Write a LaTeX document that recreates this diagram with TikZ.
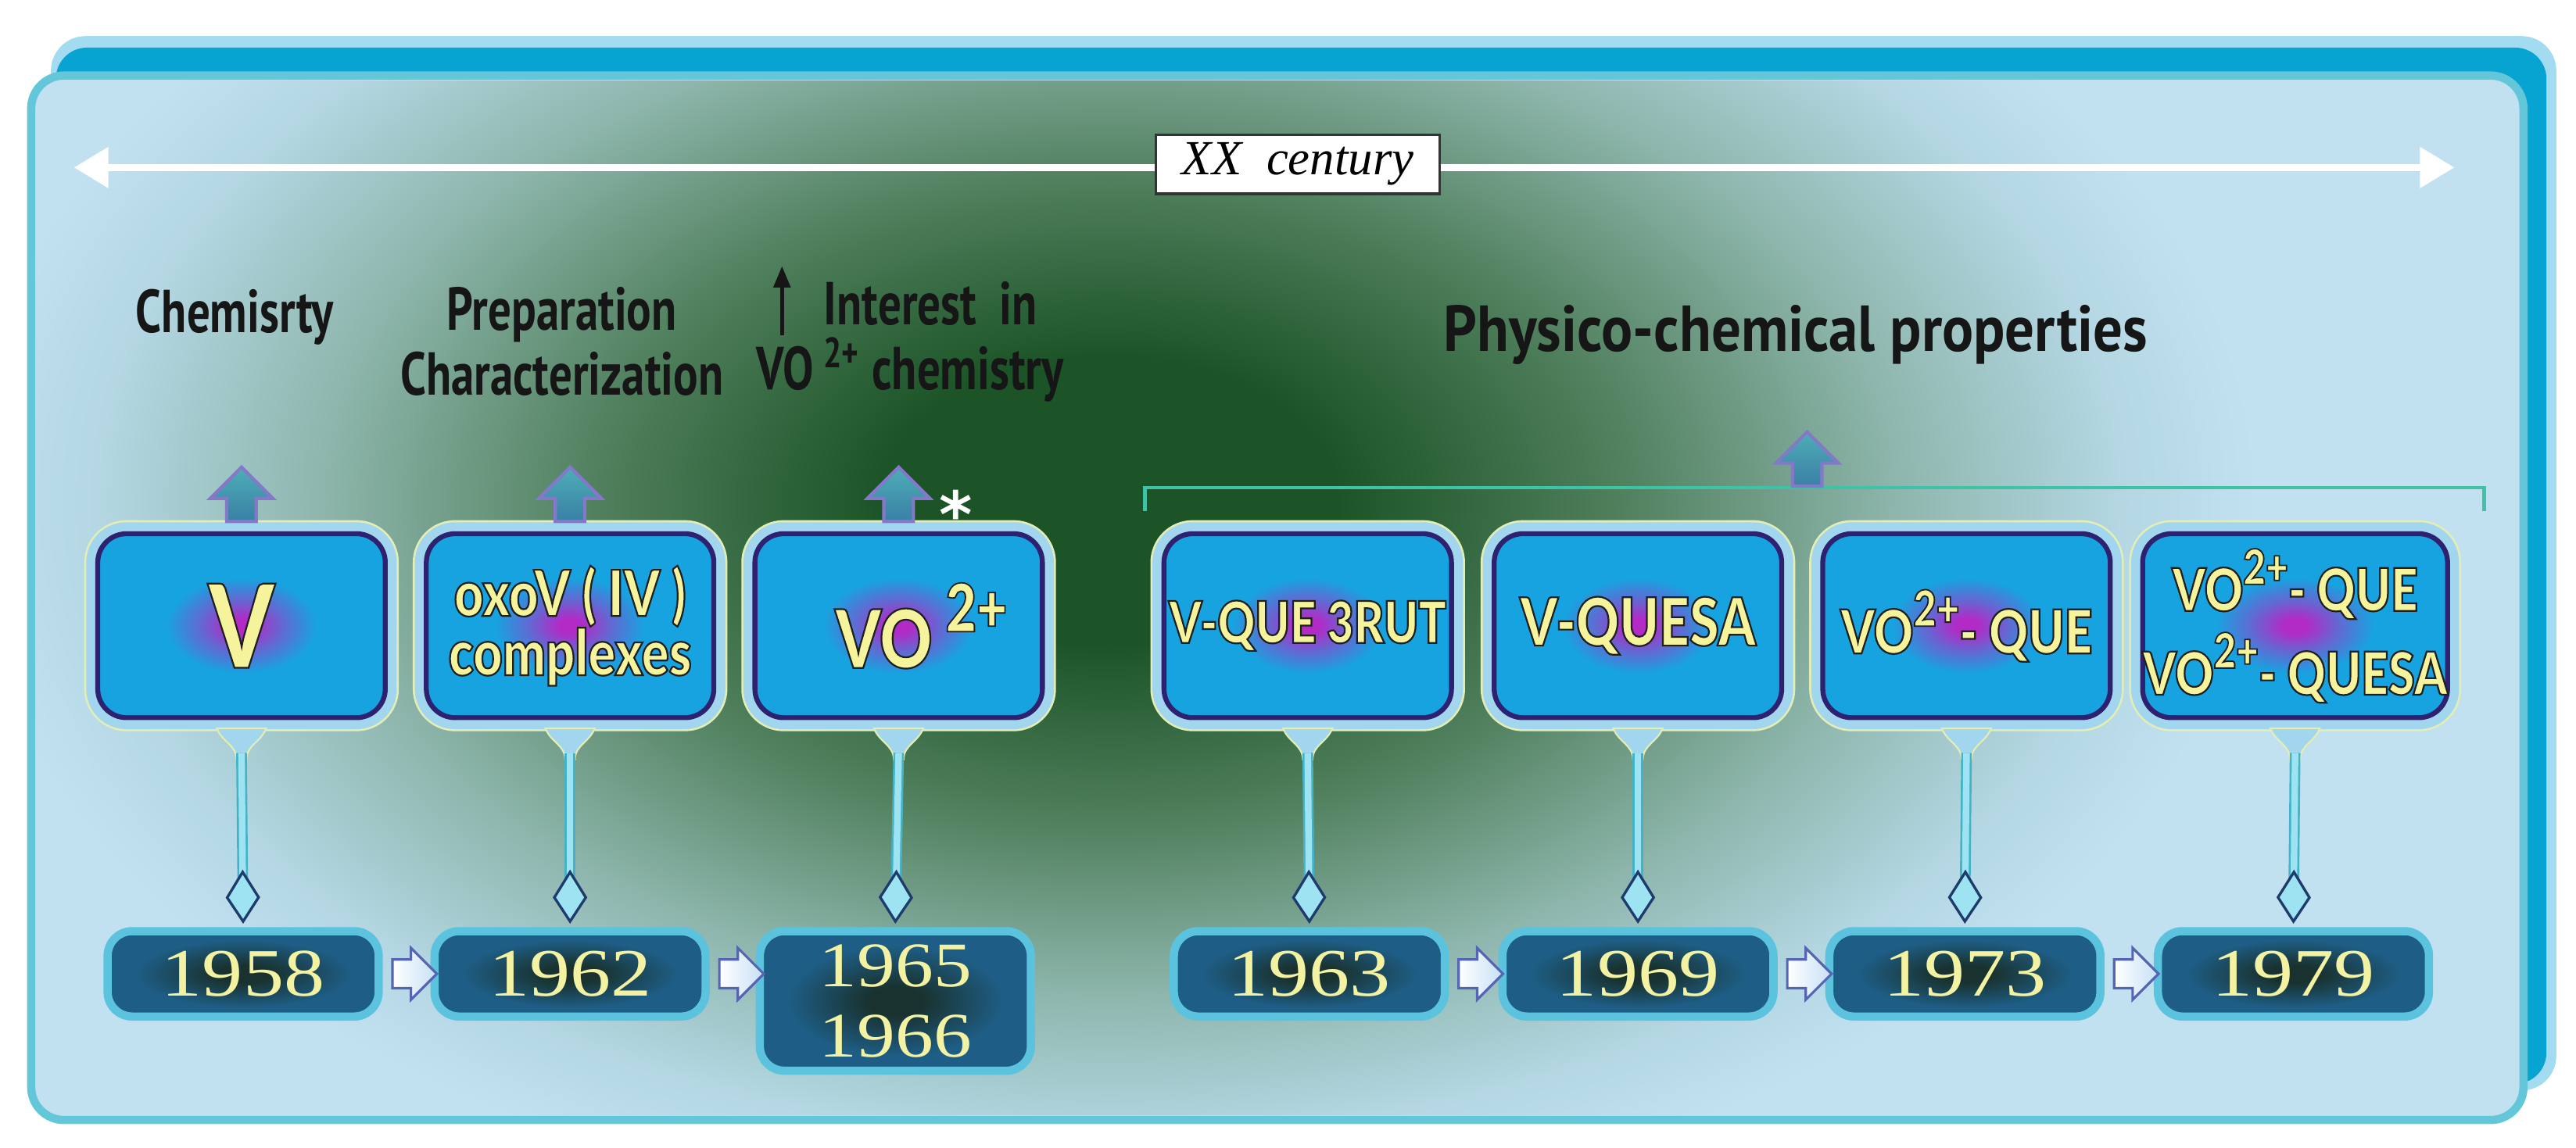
\documentclass[tikz,border=0pt]{standalone}
\usepackage{fontspec}
\usepackage{graphicx}
\usetikzlibrary{positioning,shapes.arrows,arrows.meta}

\newfontfamily\headfont[FakeStretch=0.76]{PT Sans}
\newfontfamily\headwide[FakeStretch=0.9]{PT Sans}
\newfontfamily\centfont{Liberation Serif}
\newfontfamily\impactfont[FakeStretch=0.8, UprightFont=* Black]{Lato}
\newfontfamily\yearfont[FakeStretch=1.2]{Liberation Serif}
\newfontfamily\symfont{DejaVu Sans}

\definecolor{panelblue}{HTML}{C1E1F1}
\definecolor{paneledge}{HTML}{63C7D9}
\definecolor{backblue}{HTML}{07A3D1}
\definecolor{backedge}{HTML}{A3DCF1}
\definecolor{glowgreen}{HTML}{1C5427}
\definecolor{glowmid}{HTML}{4F7F5C}
\definecolor{glowpale}{HTML}{8DB5AB}
\definecolor{glowlight}{HTML}{B4D7E3}
\definecolor{boxblue}{HTML}{17A3DF}
\definecolor{glowpurple}{HTML}{B22BC6}
\definecolor{boxnavy}{HTML}{2E2170}
\definecolor{framepale}{HTML}{A2D6EE}
\definecolor{frameedge}{HTML}{E4EEB4}
\definecolor{yearedge}{HTML}{1E5E86}
\definecolor{yearcore}{HTML}{19322F}
\definecolor{yearrim}{HTML}{5CC3DF}
\definecolor{yearyellow}{HTML}{F3F1A2}
\definecolor{boxyellow}{HTML}{F5F39C}
\definecolor{headblack}{HTML}{161616}
\definecolor{stemcyan}{HTML}{9DE3F2}
\definecolor{stemedge}{HTML}{45B3C6}
\definecolor{tipnavy}{HTML}{1F3B6B}
\definecolor{arrowtop}{HTML}{4DAEB6}
\definecolor{arrowbottom}{HTML}{3A7FA6}
\definecolor{arrowlilac}{HTML}{8479C8}
\definecolor{nextfill}{HTML}{C6E0F6}
\definecolor{nextedge}{HTML}{5565B2}
\definecolor{bracketgreen}{HTML}{3FC2A6}
\definecolor{centedge}{HTML}{333333}

\pgfdeclareradialshading{greenglow}{\pgfpoint{0bp}{0bp}}{color(0bp)=(glowgreen); color(5bp)=(glowgreen); color(11bp)=(glowmid); color(17bp)=(glowpale); color(22bp)=(glowlight); color(25bp)=(panelblue); color(50bp)=(panelblue)}
\pgfdeclareradialshading{boxglow}{\pgfpoint{0bp}{0bp}}{color(0bp)=(glowpurple); color(2bp)=(glowpurple); color(7bp)=(boxblue!50!glowpurple); color(13bp)=(boxblue); color(50bp)=(boxblue)}
\pgfdeclareradialshading{yearglow}{\pgfpoint{0bp}{0bp}}{color(0bp)=(yearcore); color(5bp)=(yearcore); color(20bp)=(yearedge); color(50bp)=(yearedge)}

% yellow letters with a dark rim (stroke of the glyphs)
\newcommand{\boxtext}[1]{\special{pdf:literal direct q 0.12 0.12 0.12 RG 0.6 w 2 Tr}#1\special{pdf:literal direct Q}}
\newcommand{\charge}[1]{\raisebox{0.45em}{\scalebox{0.82}{#1}}}
\newcommand{\vo}{\boxtext{VO}\charge{\boxtext{2+}}}

\begin{document}
\begin{tikzpicture}[x=0.2mm, y=-0.2mm,
    toplbl/.style={font=\headfont\bfseries\fontsize{21}{22.5}\selectfont, text=headblack, align=center},
    topbox/.style={rounded corners=0.35cm, minimum width=3.5cm, minimum height=2.24cm,
      inner sep=0pt, draw=boxnavy, line width=0.06cm, shade, shading=boxglow,
      preaction={draw=frameedge, line width=0.33cm},
      preaction={draw=framepale, line width=0.28cm},
      font=\impactfont\fontsize{20}{20.5}\selectfont, text=boxyellow, align=center},
    yearbox/.style={rounded corners=0.3cm, minimum width=3.3cm, minimum height=1.04cm,
      inner sep=0pt, draw=yearrim, line width=0.1cm, shade, shading=yearglow,
      font=\yearfont\fontsize{23.5}{21}\selectfont, text=yearyellow, align=center},
    stem/.style={draw=stemcyan, line width=0.08cm,
      preaction={draw=stemedge, line width=0.13cm, -, shorten >=0.45cm},
      -{Kite[length=0.66cm, width=0.42cm, inset=0.34cm, fill=stemcyan, color=tipnavy, line width=0.9pt]}},
    flare/.style={fill=framepale, draw=frameedge, line width=0.02cm},
    uparrow/.style={single arrow, shape border rotate=90, draw=arrowlilac, line width=0.04cm,
      top color=arrowtop, bottom color=arrowbottom, minimum height=0.66cm,
      inner sep=0.16cm, single arrow head extend=0.2cm},
    nextarrow/.style={single arrow, draw=nextedge, line width=0.03cm, left color=white,
      right color=nextfill, minimum height=0.54cm, inner sep=0.16cm,
      single arrow head extend=0.14cm},
    timeline/.style={white, line width=0.09cm,
      {Triangle[length=0.42cm, width=0.48cm]}-{Triangle[length=0.42cm, width=0.48cm]}},
    bracket/.style={bracketgreen, line width=0.045cm}]
  \useasboundingbox (0,0) rectangle (1568,698.6);

  % frame and panel
  \fill[backedge, rounded corners=0.42cm] (31,22) rectangle (1556,664);
  \fill[backblue, rounded corners=0.38cm] (34,29) rectangle (1550,660);
  \draw[paneledge, fill=panelblue, line width=0.1cm, rounded corners=0.4cm] (19,46) rectangle (1536,682);
  \begin{scope}
    \clip[rounded corners=0.38cm] (22,49) rectangle (1533,679);
    \shade[shading=greenglow] (675,305) ellipse [x radius=700, y radius=440];
  \end{scope}

  % century line
  \coordinate (tl) at (45,102);
  \coordinate (tr) at (1494,102);
  \draw[timeline] (tl) -- (tr);
  \node[draw=centedge, fill=white, line width=0.03cm, minimum width=3.46cm, minimum height=0.72cm,
    inner sep=0pt, font=\centfont\itshape\fontsize{17}{17}\selectfont] (xx) at (790,100) {XX~~century};

  % headings
  \node[toplbl] (chem) at (143,193) {Chemisrty};
  \node[toplbl] (prep) at (342,208) {Preparation\\Characterization};
  \node[toplbl] (intr) at (554,208) {\hspace*{0.5cm}Interest~ in\\VO\,\textsuperscript{2+}~chemistry};
  \draw[headblack, line width=0.05cm, -{Triangle[length=0.26cm, width=0.2cm]}]
    ([shift={(-78,-4)}] intr.center) -- ([shift={(-78,-46)}] intr.center);
  \node[toplbl, font=\headwide\bfseries\fontsize{22.5}{24}\selectfont] (phys) at (1093,204) {Physico-chemical properties};

  % compound boxes
  \node[topbox, font=\impactfont\fontsize{40}{40}\selectfont] (bV) at (147,381) {\boxtext{V}};
  \node[topbox, font=\impactfont\fontsize{22}{20.5}\selectfont] (bOxo) at ([shift={(200,0)}] bV) {\boxtext{oxoV ( IV )}\\\boxtext{complexes}};
  \node[topbox, font=\impactfont\fontsize{28}{28}\selectfont] (bVO) at ([shift={(200,0)}] bOxo) {\hspace*{0.55cm}\boxtext{VO}\,\charge{\boxtext{2+}}};
  \node[topbox] (bQue) at ([shift={(249,0)}] bVO) {\boxtext{V-QUE 3RUT}};
  \node[topbox, font=\impactfont\fontsize{23}{23}\selectfont] (bQuesa) at ([shift={(201,0)}] bQue) {\boxtext{V-QUESA}};
  \node[topbox, font=\impactfont\fontsize{21}{21}\selectfont] (bVOque) at ([shift={(200,0)}] bQuesa) {\vo\boxtext{- QUE}};
  \node[topbox, font=\impactfont\fontsize{20.5}{29}\selectfont] (bVOboth) at ([shift={(200,0)}] bVOque) {\vo\boxtext{- QUE}\\\vo\boxtext{- QUESA}};

  % years
  \node[yearbox] (y58) at (148,593) {1958};
  \node[yearbox] (y62) at ([shift={(199,0)}] y58) {1962};
  \node[yearbox, minimum height=1.7cm, anchor=north, font=\yearfont\fontsize{22}{24.5}\selectfont] (y65) at ([shift={(198,0)}] y62.north) {1965\\1966};
  \node[yearbox] (y63) at ([shift={(450,0)}] y62) {1963};
  \node[yearbox] (y69) at ([shift={(200,0)}] y63) {1969};
  \node[yearbox] (y73) at ([shift={(199,0)}] y69) {1973};
  \node[yearbox] (y79) at ([shift={(200,0)}] y73) {1979};

  \foreach \a in {y58,y62,y63,y69,y73}
    \node[nextarrow] (nx\a) at ([shift={(15,0)}] \a.east) {};

  % stems
  \foreach \b/\y in {bV/y58, bOxo/y62, bVO/y65, bQue/y63, bQuesa/y69, bVOque/y73, bVOboth/y79} {
    \draw[flare] ([shift={(-15,5)}] \b.south) to[out=-70, in=90] ([shift={(-3,24)}] \b.south)
      -- ([shift={(3,24)}] \b.south) to[out=90, in=-110] ([shift={(15,5)}] \b.south) -- cycle;
    \draw[stem] ([shift={(0,20)}] \b.south) -- ([shift={(0,-2)}] \y.north);
  }

  % up arrows
  \foreach \b in {bV,bOxo,bVO}
    \node[uparrow, anchor=tail] (up\b) at ([shift={(0,-5)}] \b.north) {};
  \node[font=\symfont\bfseries\fontsize{22}{22}\selectfont, text=white] (star) at (582,313) {*};

  \coordinate (brL) at (697,311);
  \coordinate (brR) at (1512,311);
  \draw[bracket] (brL) -- ++(0,-14) -| (brR);
  \node[uparrow, anchor=tail] (upPhys) at (1100,297) {};
\end{tikzpicture}
\end{document}
